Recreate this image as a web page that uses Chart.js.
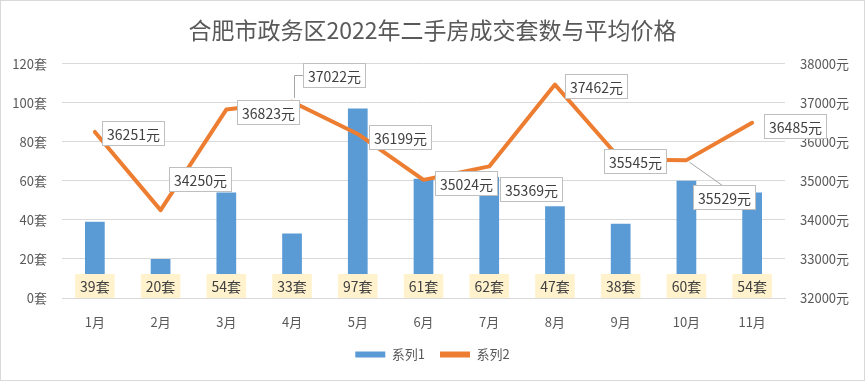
<!DOCTYPE html>
<html><head><meta charset="utf-8">
<script src="https://cdn.jsdelivr.net/npm/chart.js@4/dist/chart.umd.min.js"></script>
<style>html,body{margin:0;padding:0;background:#fff}#wrap{width:865px;height:381px}</style>
</head><body><div id="wrap"><canvas id="c" width="865" height="381"></canvas></div>
<script>
const titleText = '合肥市政务区2022年二手房成交套数与平均价格';
const categories = ['1月','2月','3月','4月','5月','6月','7月','8月','9月','10月','11月'];
const salesCount = [39,20,54,33,97,61,62,47,38,60,54];
const avgPrice = [36251,34250,36823,37022,36199,35024,35369,37462,35545,35529,36485];
const seriesNames = ['系列1','系列2'];
const countTicks = [0,20,40,60,80,100,120];
const priceTicks = [32000,33000,34000,35000,36000,37000,38000];

// label placement (box centre relative to the point) and leader lines
const priceLabelOffsets = [[38,1],[39,-31],[42,2],[42,-27],[42,3],[42,3],[42,23],[41,1],[14,1],[38,37],[43,3]];
const priceLeaders = [null,null,null,'elbow',null,null,null,null,null,'diag',null];

const FONT = '"Noto Sans CJK SC","Noto Sans",sans-serif';
const TXT = '#595959';

const bgPlugin = {
  id:'bg',
  beforeDraw(chart){
    const ctx = chart.ctx;
    ctx.save();
    ctx.fillStyle = '#fff';
    ctx.fillRect(0,0,chart.width,chart.height);
    ctx.strokeStyle = '#d9d9d9';
    ctx.lineWidth = 1;
    ctx.strokeRect(0.5,0.5,chart.width-1,chart.height-1);
    ctx.restore();
  }
};

const labelPlugin = {
  id:'dataLabels',
  afterDatasetsDraw(chart){
    const ctx = chart.ctx;
    const barMeta = chart.getDatasetMeta(0);
    const lineMeta = chart.getDatasetMeta(1);
    const y0 = chart.scales.y.getPixelForValue(0);
    ctx.save();
    ctx.font = '14px ' + FONT;
    ctx.textAlign = 'center';
    ctx.textBaseline = 'middle';
    barMeta.data.forEach((el,i)=>{
      const t = salesCount[i] + '套';
      const w = ctx.measureText(t).width + 10, h = 24;
      const cx = el.x, cy = y0 - 12;
      ctx.fillStyle = '#fff2cc';
      ctx.fillRect(cx - w/2, cy - h/2, w, h);
      ctx.fillStyle = '#404040';
      ctx.fillText(t, cx, cy + 1);
    });
    lineMeta.data.forEach((el,i)=>{
      const t = avgPrice[i] + '元';
      const w = Math.round(ctx.measureText(t).width + 9), h = 24;
      const cx = el.x + priceLabelOffsets[i][0], cy = el.y + priceLabelOffsets[i][1];
      const lx = Math.round(cx - w/2) + 0.5, ty = Math.round(cy - h/2) + 0.5;
      ctx.strokeStyle = '#a6a6a6';
      ctx.lineWidth = 1;
      if (priceLeaders[i] === 'elbow') {
        ctx.beginPath();
        ctx.moveTo(Math.round(el.x + 2) + 0.5, el.y - 4);
        ctx.lineTo(Math.round(el.x + 2) + 0.5, Math.round(cy) + 0.5);
        ctx.lineTo(lx, Math.round(cy) + 0.5);
        ctx.stroke();
      } else if (priceLeaders[i] === 'diag') {
        ctx.beginPath();
        ctx.moveTo(el.x + 3, el.y + 2);
        ctx.lineTo(cx - 2, ty);
        ctx.stroke();
      }
      ctx.fillStyle = '#fff';
      ctx.fillRect(lx, ty, w, h);
      ctx.strokeStyle = '#bfbfbf';
      ctx.strokeRect(lx, ty, w, h);
      ctx.fillStyle = '#404040';
      ctx.fillText(t, lx + w/2, ty + h/2 + 1);
    });
    ctx.restore();
  }
};

new Chart(document.getElementById('c'), {
  data: {
    labels: categories,
    datasets: [
      { type:'bar', label: seriesNames[0], data: salesCount, yAxisID:'y',
        backgroundColor:'#5b9bd5', borderWidth:0, order:1,
        barPercentage:0.3, categoryPercentage:1 },
      { type:'line', label: seriesNames[1], data: avgPrice, yAxisID:'y1',
        borderColor:'#ed7d31', backgroundColor:'#ed7d31', borderWidth:4,
        pointRadius:0, pointHoverRadius:0, tension:0, fill:false, order:0,
        borderCapStyle:'round', borderJoinStyle:'round' }
    ]
  },
  options: {
    responsive:false, animation:false, devicePixelRatio:1,
    layout:{ padding:{ left:0, right:0, top:0, bottom:10 } },
    plugins:{
      tooltip:{enabled:false},
      title:{ display:true, text:titleText, color:TXT,
        font:{ family:FONT, size:23, weight:'normal' },
        padding:{ top:16, bottom:20 } },
      legend:{ position:'bottom',
        labels:{ boxWidth:30, boxHeight:6, padding:15, color:TXT,
          font:{ family:FONT, size:13 },
          sort:(a,b)=>a.datasetIndex-b.datasetIndex,
          generateLabels(chart){
            const items = Chart.defaults.plugins.legend.labels.generateLabels(chart);
            items.forEach(it=>{ it.lineWidth = 0; it.strokeStyle = 'rgba(0,0,0,0)'; });
            return items;
          } } }
    },
    scales:{
      x:{ grid:{ display:false, drawTicks:false },
        border:{ display:true, color:'#d9d9d9' },
        ticks:{ padding:16, color:TXT, font:{ family:FONT, size:13 }, maxRotation:0 },
        afterFit(s){ s.height = 35; } },
      y:{ position:'left', min:countTicks[0], max:countTicks[countTicks.length-1],
        grid:{ color:'#d9d9d9', drawTicks:false }, border:{ display:false },
        afterBuildTicks(s){ s.ticks = countTicks.map(v=>({value:v})); },
        ticks:{ padding:15, color:TXT, font:{ family:FONT, size:13 }, callback:v=>v+'套' },
        afterFit(s){ s.width = 62; } },
      y1:{ position:'right', min:priceTicks[0], max:priceTicks[priceTicks.length-1],
        grid:{ display:false, drawTicks:false }, border:{ display:false },
        afterBuildTicks(s){ s.ticks = priceTicks.map(v=>({value:v})); },
        ticks:{ padding:15, color:TXT, font:{ family:FONT, size:13 }, callback:v=>v+'元' },
        afterFit(s){ s.width = 80; } }
    }
  },
  plugins:[bgPlugin, labelPlugin]
});
</script></body></html>
